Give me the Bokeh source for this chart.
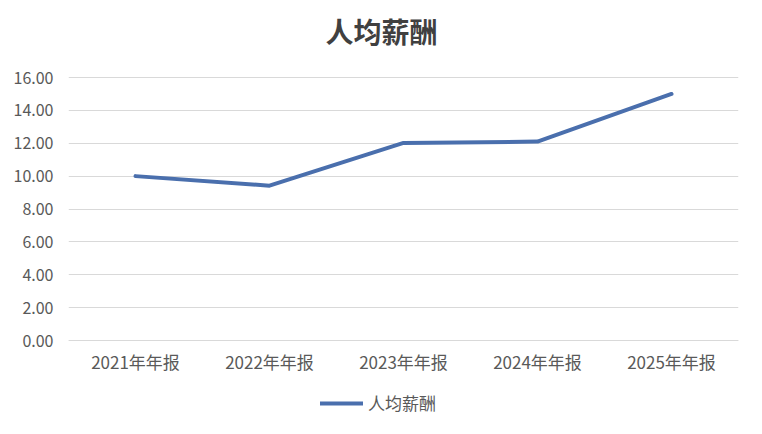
from bokeh.plotting import figure
from bokeh.models import (ColumnDataSource, FactorRange, Range1d, FixedTicker,
                          NumeralTickFormatter, Legend, LegendItem, Label)
from bokeh.embed import file_html
from bokeh.resources import INLINE

categories = ["2021年年报", "2022年年报", "2023年年报", "2024年年报", "2025年年报"]
values = [10.0, 9.42, 12.02, 12.1, 15.0]
series_name = "人均薪酬"
title_text = "人均薪酬"
y_ticks = [0, 2, 4, 6, 8, 10, 12, 14, 16]

FONT = "Noto Sans CJK SC"
TXT = "#595959"

# frame spans the whole height: 263 px for 0..16, 77 px above for the title,
# 78 px below zero for the axis labels and legend
PX_PER_UNIT = 263 / 16
Y_MIN = -78 / PX_PER_UNIT
Y_MAX = 16 + 77 / PX_PER_UNIT
TITLE_Y = 16 + 47 / PX_PER_UNIT       # 47 px above the top gridline
AXIS_MID = len(categories) / 2         # middle of the categorical axis

src = ColumnDataSource(dict(cat=categories, val=values))

p = figure(width=746, height=418, x_range=FactorRange(*categories),
           y_range=Range1d(Y_MIN, Y_MAX), output_backend="svg", toolbar_location=None,
           min_border_left=68, min_border_right=8, min_border_top=0,
           min_border_bottom=0)
p.outline_line_color = None
p.background_fill_color = "white"
p.border_fill_color = "white"

title = Label(x=AXIS_MID, y=TITLE_Y, x_offset=-22, text=title_text,
              text_align="center", text_baseline="middle", text_font=FONT,
              text_font_size="28px", text_font_style="bold", text_color="#404040")
p.add_layout(title)

r = p.line("cat", "val", source=src, line_color="#4a6fad", line_width=4,
           line_cap="round", line_join="round")

p.yaxis.ticker = FixedTicker(ticks=y_ticks)
p.yaxis.formatter = NumeralTickFormatter(format="0.00")
p.yaxis.axis_line_color = None
p.yaxis.major_tick_line_color = None
p.yaxis.minor_tick_line_color = None
p.yaxis.major_label_standoff = 9
p.yaxis.major_label_text_font = FONT
p.yaxis.major_label_text_font_size = "16px"
p.yaxis.major_label_text_color = TXT

p.xaxis.fixed_location = 0
p.xaxis.axis_line_color = "#d9d9d9"
p.xaxis.axis_line_width = 1
p.xaxis.major_tick_line_color = None
p.xaxis.minor_tick_line_color = None
p.xaxis.major_label_standoff = 2
p.xaxis.major_label_text_font = FONT
p.xaxis.major_label_text_font_size = "17px"
p.xaxis.major_label_text_color = TXT

p.xgrid.grid_line_color = None
p.ygrid.grid_line_color = "#d9d9d9"
p.ygrid.grid_line_width = 1

legend = Legend(items=[LegendItem(label=series_name, renderers=[r])],
                location=(252, 3), orientation="horizontal",
                border_line_color=None, background_fill_alpha=0,
                padding=0, margin=0, glyph_width=43, glyph_height=20,
                label_standoff=5, label_text_font=FONT,
                label_text_font_size="17px", label_text_color=TXT)
p.add_layout(legend, "center")

open("out.html", "w").write(file_html(p, INLINE))
